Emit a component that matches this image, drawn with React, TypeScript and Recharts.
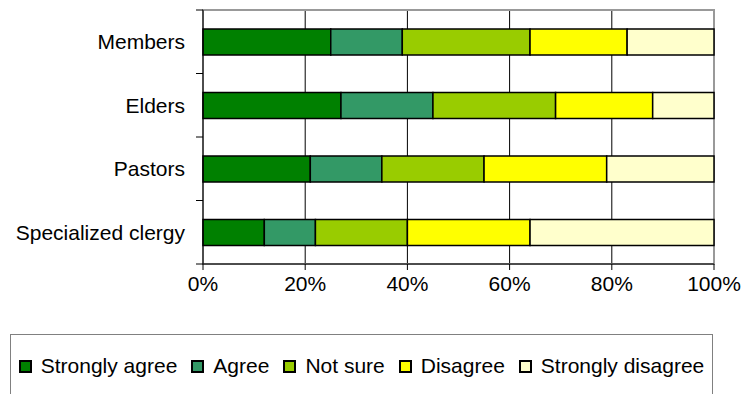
import { BarChart, Bar, XAxis, YAxis, CartesianGrid, ReferenceArea } from 'recharts';

const groups = ['Members', 'Elders', 'Pastors', 'Specialized clergy'];
const stronglyAgree = [25, 27, 21, 12];
const agree = [14, 18, 14, 10];
const notSure = [25, 24, 20, 18];
const disagree = [19, 19, 24, 24];
const stronglyDisagree = [17, 12, 21, 36];
const percentTicks = [0, 20, 40, 60, 80, 100];

const SERIES = [
  { key: 'stronglyAgree', name: 'Strongly agree', color: '#008000', values: stronglyAgree },
  { key: 'agree', name: 'Agree', color: '#339966', values: agree },
  { key: 'notSure', name: 'Not sure', color: '#99cc00', values: notSure },
  { key: 'disagree', name: 'Disagree', color: '#ffff00', values: disagree },
  { key: 'stronglyDisagree', name: 'Strongly disagree', color: '#ffffcc', values: stronglyDisagree },
];

const FONT = '"Liberation Sans", Arial, sans-serif';
const FONT_SIZE = 21;
const MARGIN = { top: 10, right: 36, left: 0, bottom: 16 };
const CHART_W = 750;
const CHART_H = 310;
const X_AXIS_H = 30;
const PLOT_H = CHART_H - MARGIN.top - MARGIN.bottom - X_AXIS_H;
const BAND = PLOT_H / groups.length;

const rows = groups.map((group, i) => {
  const row: Record<string, string | number> = { group };
  SERIES.forEach((s) => {
    row[s.key] = s.values[i];
  });
  return row;
});

// category label plus tick marks on the band edges (Excel style)
// eslint-disable-next-line @typescript-eslint/no-explicit-any
function GroupTick(props: any) {
  const { x, y, payload, index } = props;
  return (
    <g>
      <line x1={x - 7} x2={x} y1={y - BAND / 2} y2={y - BAND / 2} stroke="#000" />
      {index === groups.length - 1 && (
        <line x1={x - 7} x2={x} y1={y + BAND / 2} y2={y + BAND / 2} stroke="#000" />
      )}
      <text x={x - 18} y={y} dy="0.35em" textAnchor="end" fill="#000" fontSize={FONT_SIZE} fontFamily={FONT}>
        {payload.value}
      </text>
    </g>
  );
}

export default function App() {
  return (
    <div
      style={{
        position: 'fixed',
        left: 0,
        top: 0,
        width: 750,
        height: 394,
        background: '#fff',
        overflow: 'hidden',
        fontFamily: FONT,
      }}
    >
      <BarChart
        width={CHART_W}
        height={CHART_H}
        data={rows}
        layout="vertical"
        margin={MARGIN}
        barSize={26}
      >
        <CartesianGrid horizontal={false} stroke="#000" />
        <XAxis
          type="number"
          domain={[0, 100]}
          ticks={percentTicks}
          tickFormatter={(v) => `${v}%`}
          height={X_AXIS_H}
          tick={{ fill: '#000', fontSize: FONT_SIZE, fontFamily: FONT }}
          tickSize={6}
          tickMargin={6}
          stroke="#000"
          axisLine={{ stroke: '#000' }}
          tickLine={{ stroke: '#000' }}
        />
        <YAxis
          type="category"
          dataKey="group"
          width={203}
          tick={<GroupTick />}
          tickLine={false}
          tickSize={0}
          tickMargin={0}
          axisLine={{ stroke: '#000' }}
        />
        <ReferenceArea x1={0} x2={100} fill="none" stroke="#999" strokeWidth={2} />
        {SERIES.map((s) => (
          <Bar
            key={s.key}
            dataKey={s.key}
            name={s.name}
            stackId="all"
            fill={s.color}
            stroke="#000"
            strokeWidth={1.5}
            isAnimationActive={false}
          />
        ))}
      </BarChart>
      <div
        style={{
          position: 'absolute',
          left: 10,
          top: 334,
          width: 703,
          height: 64,
          boxSizing: 'border-box',
          border: '1px solid #808080',
          display: 'flex',
          alignItems: 'center',
          justifyContent: 'center',
          fontSize: FONT_SIZE,
          color: '#000',
        }}
      >
        {SERIES.map((s, i) => (
          <div
            key={s.key}
            style={{ display: 'flex', alignItems: 'center', marginRight: i < SERIES.length - 1 ? 14 : 0 }}
          >
            <span
              style={{
                display: 'inline-block',
                width: 13,
                height: 13,
                boxSizing: 'border-box',
                border: '2px solid #000',
                background: s.color,
                marginRight: 9,
              }}
            />
            <span>{s.name}</span>
          </div>
        ))}
      </div>
    </div>
  );
}
